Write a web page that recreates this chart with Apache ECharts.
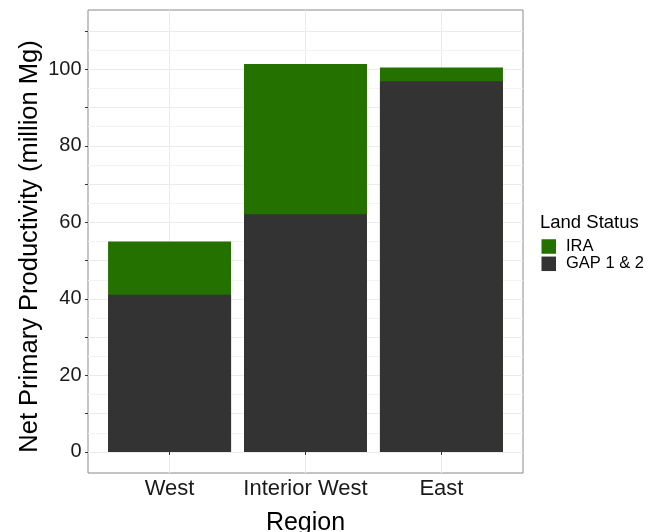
<!DOCTYPE html>
<html>
<head>
<meta charset="utf-8">
<script src="https://cdn.jsdelivr.net/npm/echarts@6/dist/echarts.min.js"></script>
<style>
html,body{margin:0;padding:0;background:#fff;}
#chart{width:665px;height:532px;}
</style>
</head>
<body>
<div id="chart"></div>
<script>
// ---- data ----
var categories = ['West', 'Interior West', 'East'];
var gapValues = [41.1, 62.1, 96.9];   // GAP 1 & 2
var iraValues = [13.9, 39.3, 3.6];    // IRA (stacked on top of GAP)
var yTickValues = [0, 10, 20, 30, 40, 50, 60, 70, 80, 90, 100, 110];
var yLabelValues = [0, 20, 40, 60, 80, 100];
var yMinorValues = [5, 15, 25, 35, 45, 55, 65, 75, 85, 95, 105];
var xPositions = [1, 2, 3];

var FONT = '"Liberation Sans", Arial, Helvetica, sans-serif';
var chart = echarts.init(document.getElementById('chart'), null, {renderer: 'canvas'});

// stacked totals (bottom segment + top segment)
var stackTop = gapValues.map(function (g, i) { return g + iraValues[i]; });
function pairs(vals) { return vals.map(function (v, i) { return [xPositions[i], v]; }); }

var option = {
  animation: false,
  backgroundColor: '#ffffff',
  textStyle: {fontFamily: FONT},
  grid: {left: 88, right: 142, top: 10, bottom: 59, show: true, containLabel: false,
         outerBoundsMode: 'none',
         borderColor: '#8a8a8a', borderWidth: 1, backgroundColor: 'transparent'},
  title: {text: 'Land Status', left: 540, top: 213, padding: 0,
          textStyle: {fontFamily: FONT, fontSize: 18.5, fontWeight: 'normal', color: '#000'}},
  legend: {
    orient: 'vertical', left: 541.5, top: 238, padding: 0,
    itemWidth: 14.5, itemHeight: 14.5, itemGap: 0.3,
    icon: 'rect', data: ['IRA', 'GAP 1 & 2'],
    textStyle: {fontFamily: FONT, fontSize: 16.5, color: '#000', lineHeight: 16, padding: [0, 0, 0, 5]}
  },
  xAxis: {
    type: 'value', min: 0.4, max: 3.6,
    name: 'Region', nameLocation: 'middle', nameGap: 38,
    nameTextStyle: {fontFamily: FONT, fontSize: 25, color: '#000'},
    axisLine: {show: false},
    axisTick: {show: true, length: 3, customValues: xPositions, lineStyle: {color: '#333'}},
    axisLabel: {customValues: xPositions, margin: 5, fontFamily: FONT, fontSize: 22, color: '#1a1a1a',
      formatter: function (v) { return categories[Math.round(v) - 1]; }},
    splitLine: {show: true, lineStyle: {color: '#ebebeb', width: 1}}
  },
  yAxis: {
    type: 'value', min: -5.5, max: 115.5,
    name: 'Net Primary Productivity (million Mg)', nameLocation: 'middle', nameGap: 45, nameRotate: 90,
    nameMoveOverlap: false,
    nameTextStyle: {fontFamily: FONT, fontSize: 25.5, color: '#000', padding: [0, 10, 0, 0]},
    axisLine: {show: false},
    axisTick: {show: true, length: 3, customValues: yTickValues, lineStyle: {color: '#333'}},
    axisLabel: {customValues: yLabelValues, margin: 6.5, fontFamily: FONT, fontSize: 20, color: '#1a1a1a'},
    splitLine: {show: true, lineStyle: {color: '#ebebeb', width: 1}}
  },
  series: [
    {
      name: 'grid-minor', type: 'line', data: [], z: 1, silent: true,
      markLine: {silent: true, symbol: 'none', z: 1, label: {show: false},
        lineStyle: {color: '#f3f3f3', width: 1, type: 'solid'},
        data: yMinorValues.map(function (v) { return {yAxis: v}; })}
    },
    {
      name: 'IRA', type: 'bar', barWidth: 123, barGap: '-100%', z: 2,
      itemStyle: {color: '#247100'}, data: pairs(stackTop)
    },
    {
      name: 'GAP 1 & 2', type: 'bar', barWidth: 123, barGap: '-100%', z: 3,
      itemStyle: {color: '#333333'}, data: pairs(gapValues)
    }
  ]
};
chart.setOption(option);
</script>
</body>
</html>
